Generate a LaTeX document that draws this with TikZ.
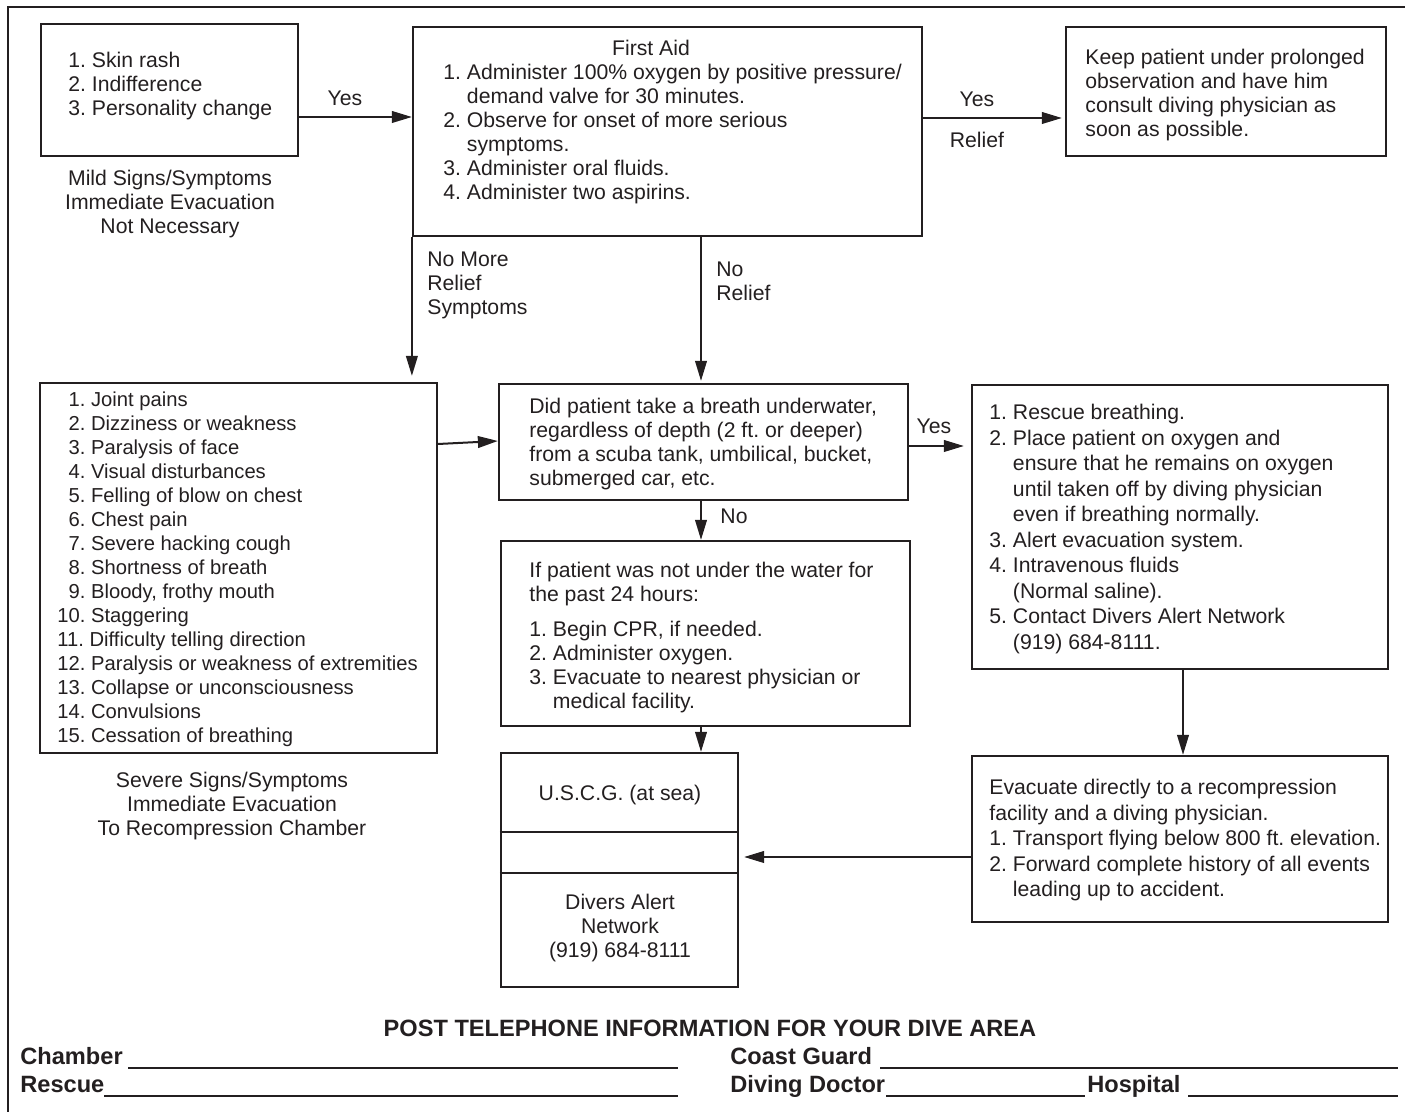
\documentclass[tikz,border=0pt]{standalone}
\usepackage{fontspec}
\setmainfont{Liberation Sans}
\usetikzlibrary{arrows.meta,fit}
\definecolor{ink}{RGB}{35,31,32}
\newcommand{\fstrut}{\rule{0pt}{8pt}}
\begin{document}
\frenchspacing
\begin{tikzpicture}[x=0.5pt,y=-0.5pt,
  box/.style={draw=ink, line width=1.1pt, inner sep=0pt},
  arr/.style={draw=ink, line width=1pt, -{Triangle[length=10pt,width=5.8pt]}},
  txt/.style={anchor=north west, align=left, inner sep=0pt, text=ink, font=\fontsize{10.6pt}{12pt}\selectfont},
  txtd/.style={txt, font=\fontsize{10.1pt}{12pt}\selectfont},
  txtw/.style={txt, font=\fontsize{10.6pt}{12.75pt}\selectfont},
  ctxt/.style={txt, anchor=north, align=center},
  lbl/.style={anchor=base, inner sep=0pt, text=ink, font=\fontsize{10.6pt}{12pt}\selectfont},
  bld/.style={anchor=base west, inner sep=0pt, text=ink, font=\fontsize{11.8pt}{14pt}\selectfont\bfseries},
  uline/.style={draw=ink, line width=1pt}]
\useasboundingbox (0,0) rectangle (1405,1112);
\clip (0,0) rectangle (1405,1112);
\draw[ink, line width=0.75pt] (8,1130) -- (8,7) -- (1420,7);

% boxes
\node[box, fit={(41,24)(298,156)}] (A) {};
\node[box, fit={(413,27)(922,236)}] (B) {};
\node[box, fit={(1066,27)(1386,156)}] (C) {};
\node[box, fit={(40,383)(437,753)}] (D) {};
\node[box, fit={(499,384)(908,500)}] (E) {};
\node[box, fit={(501,541)(910,726)}] (F) {};
\node[box, fit={(501,753)(738,987)}] (G) {};
\node[box, fit={(972,756)(1388,922)}] (H) {};
\node[box, fit={(972,385)(1388,669)}] (I) {};

% box texts
\node[txt] (tA) at (68,51.5) {\fstrut 1. Skin rash\\2. Indifference\\3. Personality change};
\node[ctxt] (mild) at (170,169.5) {\fstrut Mild Signs/Symptoms\\Immediate Evacuation\\Not Necessary};

\node[lbl] (fa) at (651,55.6) {First Aid};
\node[txt] (tB) at (443,63.5) {\fstrut 1. Administer 100\% oxygen by positive pressure/\\\phantom{1. }demand valve for 30 minutes.\\2. Observe for onset of more serious\\\phantom{2. }symptoms.\\3. Administer oral fluids.\\4. Administer two aspirins.};

\node[txt] (tC) at (1085,48.5) {\fstrut Keep patient under prolonged\\observation and have him\\consult diving physician as\\soon as possible.};

\node[txtd] (tD) at (57,390.5) {\fstrut \phantom{1}1. Joint pains\\\phantom{1}2. Dizziness or weakness\\\phantom{1}3. Paralysis of face\\\phantom{1}4. Visual disturbances\\\phantom{1}5. Felling of blow on chest\\\phantom{1}6. Chest pain\\\phantom{1}7. Severe hacking cough\\\phantom{1}8. Shortness of breath\\\phantom{1}9. Bloody, frothy mouth\\10. Staggering\\11. Difficulty telling direction\\12. Paralysis or weakness of extremities\\13. Collapse or unconsciousness\\14. Convulsions\\15. Cessation of breathing};
\node[ctxt] (severe) at (232,771.5) {\fstrut Severe Signs/Symptoms\\Immediate Evacuation\\To Recompression Chamber};

\node[txt] (tE) at (529,397.5) {\fstrut Did patient take a breath underwater,\\regardless of depth (2 ft. or deeper)\\from a scuba tank, umbilical, bucket,\\submerged car, etc.};

\node[txt] (tF) at (529,561.5) {\fstrut If patient was not under the water for\\the past 24 hours:\\[5.5pt]1. Begin CPR, if needed.\\2. Administer oxygen.\\3. Evacuate to nearest physician or\\\phantom{3. }medical facility.};

\coordinate (g1) at (0,832);
\coordinate (g2) at (0,873);
\draw[box] (G.west |- g1) -- (G.east |- g1);
\draw[box] (G.west |- g2) -- (G.east |- g2);
\node[lbl] (uscg) at (620,800.6) {U.S.C.G. (at sea)};
\node[ctxt] (dan) at (620,893.5) {\fstrut Divers Alert\\Network\\(919) 684-8111};

\node[txtw] (tI) at (989,403.5) {\fstrut 1. Rescue breathing.\\2. Place patient on oxygen and\\\phantom{2. }ensure that he remains on oxygen\\\phantom{2. }until taken off by diving physician\\\phantom{2. }even if breathing normally.\\3. Alert evacuation system.\\4. Intravenous fluids\\\phantom{4. }(Normal saline).\\5. Contact Divers Alert Network\\\phantom{5. }(919) 684-8111.};

\node[txtw] (tH) at (989,778.5) {\fstrut Evacuate directly to a recompression\\facility and a diving physician.\\1. Transport flying below 800 ft. elevation.\\2. Forward complete history of all events\\\phantom{2. }leading up to accident.};

% connector labels
\node[lbl] (yes1) at (345,105.6) {Yes};
\node[lbl] (yes2) at (977,106.6) {Yes};
\node[lbl] (rel) at (977,147.6) {Relief};
\node[txt] (nmr) at (427,250.5) {\fstrut No More\\Relief\\Symptoms};
\node[txt] (nr) at (716,260.5) {\fstrut No\\Relief};
\node[lbl] (yes3) at (934,433.6) {Yes};
\node[lbl] (no1) at (734,523.6) {No};

% connectors
\coordinate (yAB) at (0,117);
\coordinate (yBC) at (0,118);
\coordinate (yDE1) at (0,444);
\coordinate (yDE2) at (0,441);
\coordinate (yEI) at (0,446);
\coordinate (yHG) at (0,857);
\coordinate (xmid) at (701,0);
\coordinate (xIH) at (1183,0);
\draw[arr] (A.east |- yAB) -- (B.west |- yAB);
\draw[arr, shorten >=1.5pt] (B.east |- yBC) -- (C.west |- yBC);
\draw[arr, shorten >=3pt] (B.south west) -- (B.south west |- D.north);
\draw[arr, shorten >=1pt] (B.south -| xmid) -- (E.north -| xmid);
\draw[arr] (D.east |- yDE1) -- (E.west |- yDE2);
\draw[arr, shorten >=3.5pt] (E.east |- yEI) -- (I.west |- yEI);
\draw[arr] (E.south -| xmid) -- (F.north -| xmid);
\draw[arr] (F.south -| xmid) -- (G.north -| xmid);
\draw[arr] (I.south -| xIH) -- (H.north -| xIH);
\draw[arr, shorten >=2.5pt] (H.west |- yHG) -- (G.east |- yHG);

% footer
\node[bld, anchor=base] (post) at (710,1036.5) {POST TELEPHONE INFORMATION FOR YOUR DIVE AREA};
\node[bld] (cham) at (20,1064.5) {Chamber};
\node[bld] (resc) at (20,1092.5) {Rescue};
\node[bld] (cg) at (730,1064.5) {Coast Guard};
\node[bld] (dd) at (730,1092.5) {Diving Doctor};
\node[bld] (hosp) at (1087,1092.5) {Hospital};
\draw[uline] (128,1068) -- (678,1068);
\draw[uline] (104,1096) -- (678,1096);
\draw[uline] (880,1068) -- (1398,1068);
\draw[uline] (886,1096) -- (1085,1096);
\draw[uline] (1188,1096) -- (1398,1096);
\end{tikzpicture}
\end{document}
